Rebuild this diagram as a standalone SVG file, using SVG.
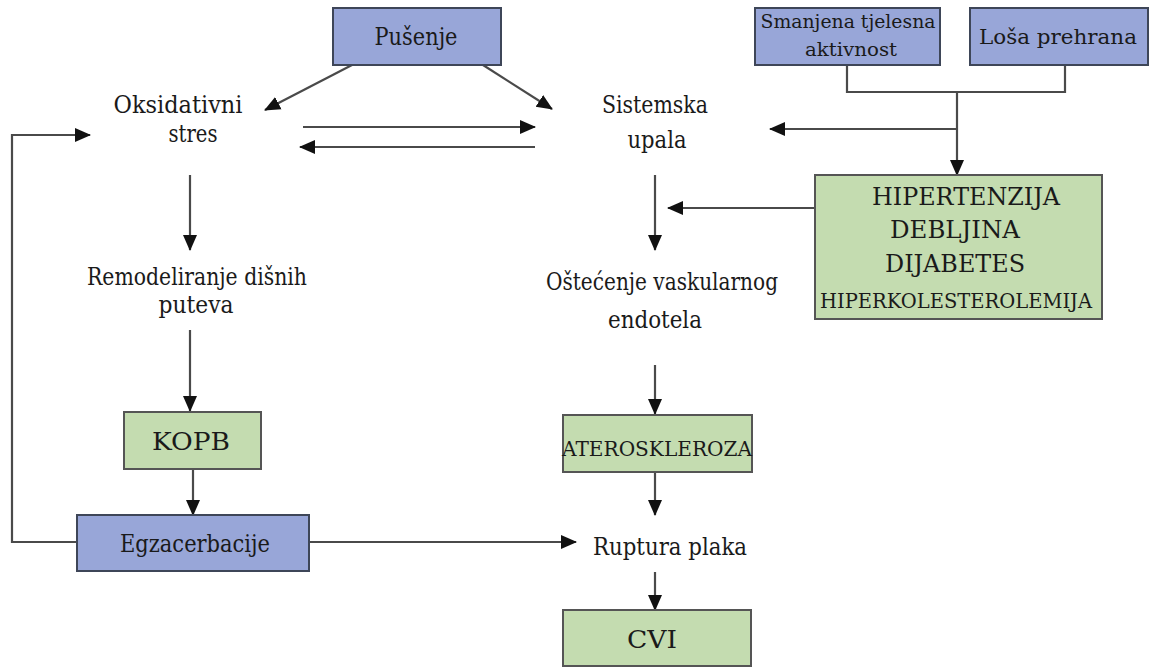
<svg xmlns="http://www.w3.org/2000/svg" width="1151" height="668" viewBox="0 0 1151 668">
<style>
text{font-family:"DejaVu Serif","Liberation Serif",serif;fill:#1a1a1a;text-anchor:middle}
.blue{fill:#98a6d8;stroke:#3e4658;stroke-width:2}
.green{fill:#c4dcb0;stroke:#555;stroke-width:2}
.c{fill:none;stroke:#4a4a4a;stroke-width:2.2}
.a{marker-end:url(#ah)}
.t26{font-size:24px}
.t24{font-size:21px}
.t22{font-size:20px}
.t20{font-size:18px}
</style>
<defs>
<marker id="ah" markerUnits="userSpaceOnUse" markerWidth="16" markerHeight="16" viewBox="0 0 16 16" refX="15" refY="8" orient="auto">
<path d="M0,1 L16,8 L0,15 Z" fill="#111"/>
</marker>
</defs>
<rect width="1151" height="668" fill="#fff"/>
<g id="connectors">
<line class="c a" x1="352" y1="65" x2="265" y2="110"/>
<line class="c a" x1="483" y1="65" x2="552" y2="109"/>
<line class="c a" x1="303" y1="127" x2="535" y2="127"/>
<line class="c a" x1="535" y1="147" x2="300" y2="147"/>
<polyline class="c" points="847,65 847,92 1065,92 1065,65"/>
<line class="c a" x1="957" y1="92" x2="957" y2="175"/>
<line class="c a" x1="957" y1="129" x2="770" y2="129"/>
<line class="c a" x1="815" y1="208" x2="668" y2="208"/>
<line class="c a" x1="655" y1="175" x2="655" y2="250"/>
<line class="c a" x1="190" y1="175" x2="190" y2="250"/>
<line class="c a" x1="190" y1="330" x2="190" y2="411"/>
<line class="c a" x1="193" y1="469" x2="193" y2="515"/>
<line class="c a" x1="655" y1="365" x2="655" y2="414"/>
<line class="c a" x1="655" y1="472" x2="655" y2="515"/>
<line class="c a" x1="655" y1="572" x2="655" y2="610"/>
<line class="c a" x1="309" y1="542" x2="576" y2="542"/>
<polyline class="c a" points="77,542 12,542 12,135 90,135"/>
</g>
<g id="pusenje">
<rect class="blue" x="333" y="8" width="168" height="57"/>
<text class="t26" x="416" y="45" textLength="83" lengthAdjust="spacingAndGlyphs">Pušenje</text>
</g>
<g id="smanjena">
<rect class="blue" x="755" y="8" width="185" height="57"/>
<text class="t20" x="848" y="28" textLength="175" lengthAdjust="spacingAndGlyphs">Smanjena tjelesna</text>
<text class="t20" x="851" y="56" textLength="92" lengthAdjust="spacingAndGlyphs">aktivnost</text>
</g>
<g id="losa">
<rect class="blue" x="970" y="8" width="178" height="57"/>
<text class="t24" x="1058" y="44" textLength="158" lengthAdjust="spacingAndGlyphs">Loša prehrana</text>
</g>
<g id="oksidativni">
<text class="t26" x="178" y="113" textLength="129" lengthAdjust="spacingAndGlyphs">Oksidativni</text>
<text class="t26" x="193" y="142" textLength="49" lengthAdjust="spacingAndGlyphs">stres</text>
</g>
<g id="sistemska">
<text class="t26" x="655" y="113" textLength="106" lengthAdjust="spacingAndGlyphs">Sistemska</text>
<text class="t26" x="657" y="148" textLength="59" lengthAdjust="spacingAndGlyphs">upala</text>
</g>
<g id="faktori">
<rect class="green" x="815" y="175" width="287" height="144"/>
<text class="t26" x="966" y="205" textLength="188" lengthAdjust="spacingAndGlyphs">HIPERTENZIJA</text>
<text class="t26" x="955" y="238" textLength="130" lengthAdjust="spacingAndGlyphs">DEBLJINA</text>
<text class="t26" x="955" y="272" textLength="140" lengthAdjust="spacingAndGlyphs">DIJABETES</text>
<text class="t22" x="956" y="308" textLength="272" lengthAdjust="spacingAndGlyphs">HIPERKOLESTEROLEMIJA</text>
</g>
<g id="remodeliranje">
<text class="t26" x="197" y="285" textLength="220" lengthAdjust="spacingAndGlyphs">Remodeliranje dišnih</text>
<text class="t26" x="196" y="313" textLength="75" lengthAdjust="spacingAndGlyphs">puteva</text>
</g>
<g id="ostecenje">
<text class="t26" x="662" y="290" textLength="232" lengthAdjust="spacingAndGlyphs">Oštećenje  vaskularnog</text>
<text class="t26" x="655" y="328" textLength="94" lengthAdjust="spacingAndGlyphs">endotela</text>
</g>
<g id="kopb">
<rect class="green" x="124" y="412" width="137" height="57"/>
<text class="t26" x="191" y="450" textLength="78" lengthAdjust="spacingAndGlyphs">KOPB</text>
</g>
<g id="ateroskleroza">
<rect class="green" x="563" y="415" width="189" height="57"/>
<text class="t22" x="657" y="456" textLength="190" lengthAdjust="spacingAndGlyphs">ATEROSKLEROZA</text>
</g>
<g id="egzacerbacije">
<rect class="blue" x="77" y="515" width="232" height="56"/>
<text class="t26" x="195" y="552" textLength="150" lengthAdjust="spacingAndGlyphs">Egzacerbacije</text>
</g>
<g id="ruptura">
<text class="t26" x="670" y="555" textLength="154" lengthAdjust="spacingAndGlyphs">Ruptura plaka</text>
</g>
<g id="cvi">
<rect class="green" x="563" y="610" width="188" height="56"/>
<text class="t26" x="652" y="648" textLength="50" lengthAdjust="spacingAndGlyphs">CVI</text>
</g>
</svg>
